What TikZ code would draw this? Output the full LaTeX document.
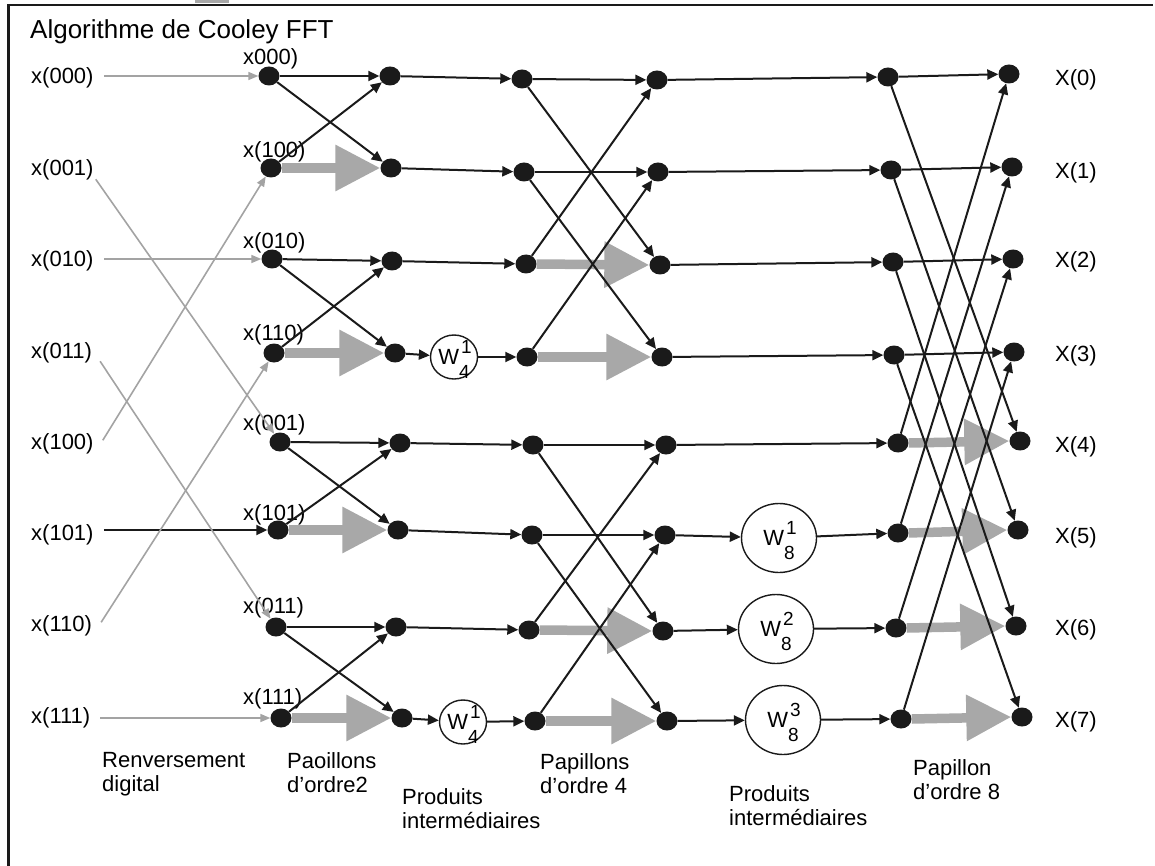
\documentclass[tikz,border=0pt]{standalone}
\usepackage{fontspec}
\setmainfont{Liberation Sans}
\usetikzlibrary{arrows.meta,shapes.geometric}
\definecolor{dk}{HTML}{1A1A1A}
\definecolor{ginc}{HTML}{A3A3A3}
\definecolor{bigc}{HTML}{A8A8A8}
\newcommand\wlab[2]{\raisebox{-7.8pt}[0pt][0pt]{W\rlap{\kern2pt\raisebox{11pt}{\fontsize{19}{19}\selectfont #1}}\raisebox{-14pt}{\fontsize{19}{19}\selectfont #2}}}
\begin{document}
\begin{tikzpicture}[x=1pt,y=-1pt,
  fdot/.style={ellipse,fill=dk,inner sep=0pt,minimum width=21pt,minimum height=19pt},
  wn/.style={ellipse,draw=dk,line width=1.4pt,fill=white,inner sep=0pt,font=\fontsize{22}{22}\selectfont},
  wsmall/.style={wn,minimum width=47pt,minimum height=44pt},
  wbig/.style={wn,minimum width=75pt,minimum height=69pt},
  lab/.style={anchor=base west,inner sep=0pt,font=\fontsize{22}{26}\selectfont},
  capt/.style={anchor=base west,inner sep=0pt,align=left,font=\fontsize{22}{23.5}\selectfont},
  blk/.style={draw=dk,line width=2pt,-{Triangle[length=11pt,width=10pt]}},
  gin/.style={draw=ginc,line width=1.6pt,-{Triangle[length=10pt,width=8pt]}},
  big/.style={draw=bigc,line width=9.5pt,-{Triangle[length=45pt,width=44pt]}}
]
\useasboundingbox (0,0) rectangle (1155,866);
% frame
\fill[bigc] (195,0) rectangle (229,3);
\draw[line width=2.5pt,dk] (8.5,866) -- (8.5,5) -- (1153,5);
% title
\node[lab,font=\fontsize{26}{30}\selectfont] (title) at (30,39) {Algorithme de Cooley FFT};
% input labels
\foreach \n/\t/\y in {in0/x(000)/84,in1/x(001)/176,in2/x(010)/267,in3/x(011)/358,in4/x(100)/449,in5/x(101)/540,in6/x(110)/631,in7/x(111)/723}
  \node[lab] (\n) at (31,\y) {\t};
% column A labels
\foreach \n/\t/\y in {la0/x000)/65,la1/x(100)/158,la2/x(010)/249,la3/x(110)/340,la4/x(001)/430,la5/x(101)/520,la6/x(011)/613,la7/x(111)/704}
  \node[lab] (\n) at (243,\y) {\t};
% output labels
\foreach \n/\t/\y in {out0/X(0)/86,out1/X(1)/179,out2/X(2)/268,out3/X(3)/361,out4/X(4)/452,out5/X(5)/543,out6/X(6)/635,out7/X(7)/727}
  \node[lab] (\n) at (1055,\y) {\t};
% dots
\foreach \n/\x/\y in {A0/269/76,A1/271/168,A2/272/259,A3/274/353,A4/280/442,A5/278/530,A6/276/627,A7/281/718,
  B0/390/76,B1/391/168,B2/392/261,B3/395/353,B4/400/443,B5/398/530,B6/396/627,B7/402/718,
  C0/522/79,C1/524/172,C2/526/264,C3/527/357,C4/533/445,C5/532/535,C6/529/630,C7/535/721,
  D0/657/80,D1/658/172,D2/660/265,D3/662/357,D4/666/445,D5/665/535,D6/663/631,D7/667/721,
  E0/888/77,E1/891/170,E2/893/262,E3/894/355,E4/898/443,E5/898/533,E6/896/628,E7/901/719,
  F0/1009/74,F1/1012/167,F2/1013/259,F3/1014/352,F4/1020/441,F5/1018/530,F6/1016/626,F7/1022/717}
  \node[fdot] (\n) at (\x,\y) {};
% twiddle factors
\node[wsmall] (wa) at (454,357) {\wlab{1}{4}};
\node[wsmall] (wb) at (463,722) {\wlab{1}{4}};
\node[wbig] (wc) at (779,538) {\wlab{1}{8}};
\node[wbig] (wd) at (776,629) {\wlab{2}{8}};
\node[wbig] (we) at (783,720) {\wlab{3}{8}};
% bit reversal
\draw[gin,shorten <=10pt] (in0.east |- A0) -- (A0);
\draw[gin,shorten <=10pt] (in2.east |- A2) -- (A2);
\draw[gin,shorten <=10pt] (in7.east |- A7) -- (A7);
\draw[blk,shorten <=10pt] (in5.east |- A5) -- (A5);
\draw[gin] ([xshift=2pt,yshift=-9pt]in1.east) -- (A4);
\draw[gin] ([xshift=8pt,yshift=-9pt]in3.east) -- (A6);
\draw[gin] ([xshift=9pt,yshift=3pt]in4.east) -- (A1);
\draw[gin] ([xshift=9pt,yshift=3pt]in6.east) -- (A3);
% gray -1 arrows
\foreach \s/\t in {A1/B1,A3/B3,A5/B5,A7/B7,C2/D2,C3/D3,C6/D6,C7/D7,E4/F4,E5/F5,E6/F6,E7/F7}
  \draw[big] (\s.east) -- (\t.west);
% butterflies of order 2
\foreach \a/\b in {0/1,2/3,4/5,6/7}{
  \draw[blk] (A\a) -- (B\a);
  \draw[blk] (A\a) -- (B\b);
  \draw[blk] (A\b) -- (B\a);
}
% intermediate products 1
\foreach \i in {0,1,2,4,5,6} \draw[blk] (B\i) -- (C\i);
\draw[blk] (B3) -- (wa);
\draw[blk] (wa) -- (C3);
\draw[blk] (B7) -- (wb);
\draw[blk] (wb) -- (C7);
% butterflies of order 4
\foreach \a/\b/\c/\d in {0/1/2/3,4/5/6/7}{
  \draw[blk] (C\a) -- (D\a);
  \draw[blk] (C\a) -- (D\c);
  \draw[blk] (C\b) -- (D\b);
  \draw[blk] (C\b) -- (D\d);
  \draw[blk] (C\c) -- (D\a);
  \draw[blk] (C\d) -- (D\b);
}
% intermediate products 2
\foreach \i in {0,1,2,3,4} \draw[blk] (D\i) -- (E\i);
\draw[blk] (D5) -- (wc);
\draw[blk] (wc) -- (E5);
\draw[blk] (D6) -- (wd);
\draw[blk] (wd) -- (E6);
\draw[blk] (D7) -- (we);
\draw[blk] (we) -- (E7);
% butterfly of order 8
\foreach \i/\j in {0/4,1/5,2/6,3/7}{
  \draw[blk] (E\i) -- (F\i);
  \draw[blk] (E\i) -- (F\j);
  \draw[blk] (E\j) -- (F\i);
}
% captions (anchor at the baseline of the last line)
\node[capt] (c1) at (102,791) {Renversement\\digital};
\node[capt] (c2) at (287,792) {Paoillons\\d’ordre2};
\node[capt] (c3) at (402,828) {Produits\\intermédiaires};
\node[capt] (c4) at (540,793) {Papillons\\d’ordre 4};
\node[capt] (c5) at (729,825) {Produits\\intermédiaires};
\node[capt] (c6) at (913,799) {Papillon\\d’ordre 8};
\end{tikzpicture}
\end{document}
